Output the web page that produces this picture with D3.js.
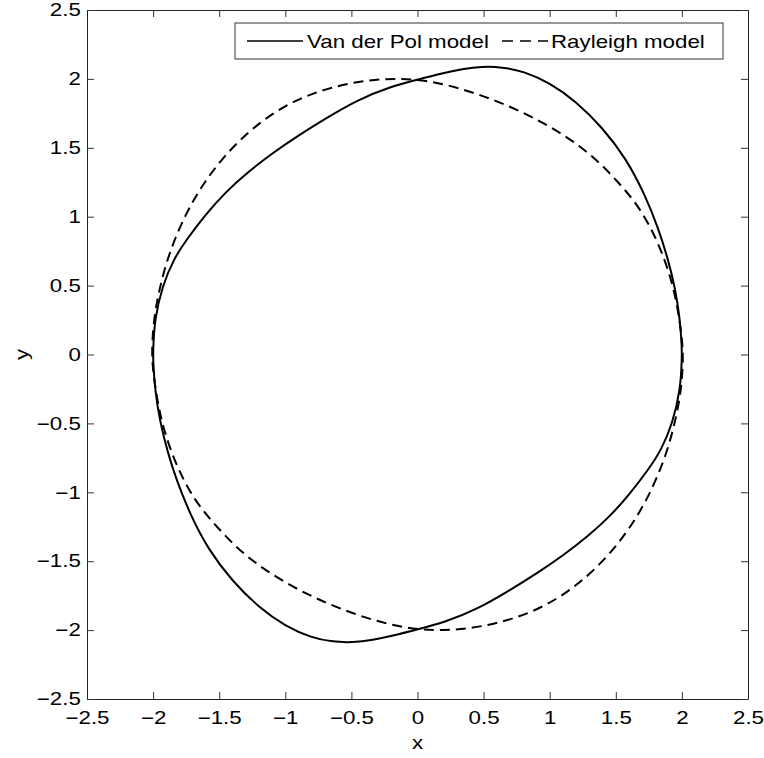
<!DOCTYPE html>
<html>
<head>
<meta charset="utf-8">
<script src="https://cdn.jsdelivr.net/npm/d3@7"></script>
<style>
  html, body { margin: 0; padding: 0; background: #fff; }
  svg { display: block; font-family: "Liberation Sans", Arial, Helvetica, sans-serif; }
</style>
</head>
<body>
<svg id="chart" width="764" height="758"></svg>
<script>
// Limit cycle of the Van der Pol oscillator (x, y = dx/dt), clockwise from the left extreme
const vanDerPolX = [-2.00, -1.99, -1.93, -1.84, -1.75, -1.60, -1.45, -1.30, -1.10, -0.90, -0.70, -0.45, -0.20, 0.00, 0.18, 0.34, 0.49, 0.64, 0.80, 1.00, 1.20, 1.40, 1.58, 1.72, 1.82, 1.89, 1.95, 1.985, 2.00,
                    2.00, 1.99, 1.93, 1.84, 1.75, 1.60, 1.45, 1.30, 1.10, 0.90, 0.70, 0.45, 0.20, 0.00, -0.18, -0.34, -0.49, -0.64, -0.80, -1.00, -1.20, -1.40, -1.58, -1.72, -1.82, -1.89, -1.95, -1.985, -2.00];
const vanDerPolY = [0.02, 0.25, 0.50, 0.70, 0.83, 1.02, 1.18, 1.31, 1.46, 1.59, 1.71, 1.85, 1.945, 1.995, 2.04, 2.072, 2.09, 2.086, 2.056, 1.972, 1.836, 1.646, 1.42, 1.16, 0.92, 0.71, 0.48, 0.26, 0.05,
                    -0.02, -0.25, -0.50, -0.70, -0.83, -1.02, -1.18, -1.31, -1.46, -1.59, -1.71, -1.85, -1.945, -1.995, -2.04, -2.072, -2.09, -2.086, -2.056, -1.972, -1.836, -1.646, -1.42, -1.16, -0.92, -0.71, -0.48, -0.26, -0.05];

// Limit cycle of the Rayleigh oscillator, same orientation
const rayleighX = [-2.01, -2.00, -1.96, -1.88, -1.75, -1.62, -1.48, -1.30, -1.10, -0.88, -0.65, -0.40, -0.15, 0.10, 0.35, 0.60, 0.85, 1.10, 1.33, 1.52, 1.68, 1.82, 1.92, 1.97, 2.00,
                   2.01, 2.00, 1.96, 1.88, 1.75, 1.62, 1.48, 1.30, 1.10, 0.88, 0.65, 0.40, 0.15, -0.10, -0.35, -0.60, -0.85, -1.10, -1.33, -1.52, -1.68, -1.82, -1.92, -1.97, -2.00];
const rayleighY = [0.00, 0.22, 0.45, 0.74, 1.03, 1.24, 1.42, 1.60, 1.75, 1.865, 1.94, 1.99, 2.005, 1.985, 1.925, 1.84, 1.735, 1.60, 1.44, 1.25, 1.07, 0.82, 0.55, 0.33, 0.12,
                   0.00, -0.22, -0.45, -0.74, -1.03, -1.24, -1.42, -1.60, -1.75, -1.865, -1.94, -1.99, -2.005, -1.985, -1.925, -1.84, -1.735, -1.60, -1.44, -1.25, -1.07, -0.82, -0.55, -0.33, -0.12];

const tickValues = [-2.5, -2, -1.5, -1, -0.5, 0, 0.5, 1, 1.5, 2, 2.5];
const tickLabels = ["\u22122.5", "\u22122", "\u22121.5", "\u22121", "\u22120.5", "0", "0.5", "1", "1.5", "2", "2.5"];

const seriesNames = ["Van der Pol model", "Rayleigh model"];
const xLabel = "x";
const yLabel = "y";

const svg = d3.select("#chart");
const plotLeft = 87, plotRight = 748, plotTop = 10, plotBottom = 699;
const fontSize = 18, stretch = 1.24;
const ink = "#000";

const x = d3.scaleLinear().domain([-2.5, 2.5]).range([plotLeft, plotRight]);
const y = d3.scaleLinear().domain([-2.5, 2.5]).range([plotBottom, plotTop]);

const fmt = d => tickLabels[tickValues.indexOf(d)];

// Curves: smooth closed splines through the sampled orbit points
const vdp = vanDerPolX.map((v, i) => [v, vanDerPolY[i]]);
const ray = rayleighX.map((v, i) => [v, rayleighY[i]]);
const line = d3.line().x(d => x(d[0])).y(d => y(d[1])).curve(d3.curveBasisClosed);

const plot = svg.append("g");
plot.append("path").attr("d", line(vdp))
  .attr("fill", "none").attr("stroke", ink).attr("stroke-width", 2);
plot.append("path").attr("d", line(ray))
  .attr("fill", "none").attr("stroke", ink).attr("stroke-width", 2)
  .attr("stroke-dasharray", "10,6");

// Axes (ticks pointing inward on all four sides)
function styleAxis(g) {
  g.selectAll("path.domain").attr("stroke", "#222").attr("stroke-width", 1);
  g.selectAll(".tick line").attr("stroke", "#333").attr("stroke-width", 1);
  g.selectAll("text").attr("font-size", fontSize).attr("fill", ink)
    .attr("font-family", "'Liberation Sans', Arial, sans-serif");
}

const gx = svg.append("g").attr("transform", `translate(0,${plotBottom})`)
  .call(d3.axisBottom(x).tickValues(tickValues).tickFormat(fmt).tickSizeInner(-7).tickSizeOuter(0).tickPadding(12))
  .call(styleAxis);
gx.selectAll(".tick text").attr("transform", `scale(${stretch},1)`);

svg.append("g").attr("transform", `translate(0,${plotTop})`)
  .call(d3.axisTop(x).tickValues(tickValues).tickFormat("").tickSizeInner(-7).tickSizeOuter(0))
  .call(styleAxis);

const gy = svg.append("g").attr("transform", `translate(${plotLeft},0)`)
  .call(d3.axisLeft(y).tickValues(tickValues).tickFormat(fmt).tickSizeInner(-7).tickSizeOuter(0).tickPadding(5))
  .call(styleAxis);
gy.selectAll(".tick text").attr("transform", `scale(${stretch},1)`);

svg.append("g").attr("transform", `translate(${plotRight},0)`)
  .call(d3.axisRight(y).tickValues(tickValues).tickFormat("").tickSizeInner(-7).tickSizeOuter(0))
  .call(styleAxis);

// Axis labels
svg.append("text").attr("transform", `translate(${(plotLeft + plotRight) / 2},749) scale(${stretch},1)`)
  .attr("text-anchor", "middle").attr("font-size", fontSize).text(xLabel);
svg.append("text").attr("transform", `translate(28,${(plotTop + plotBottom) / 2}) rotate(-90) scale(${stretch},1)`)
  .attr("text-anchor", "middle").attr("font-size", fontSize).text(yLabel);

// Legend
const leg = svg.append("g");
leg.append("rect").attr("x", 235).attr("y", 23).attr("width", 488).attr("height", 36)
  .attr("fill", "#fff").attr("stroke", "#333").attr("stroke-width", 1);
const legY = 41;
leg.append("line").attr("x1", 247).attr("x2", 303).attr("y1", legY).attr("y2", legY)
  .attr("stroke", ink).attr("stroke-width", 1.5);
leg.append("text").attr("transform", `translate(307,${legY + 6.5}) scale(${stretch},1)`)
  .attr("font-size", fontSize).text(seriesNames[0]);
leg.append("line").attr("x1", 502).attr("x2", 548).attr("y1", legY).attr("y2", legY)
  .attr("stroke", ink).attr("stroke-width", 1.5).attr("stroke-dasharray", "11,7");
leg.append("text").attr("transform", `translate(551,${legY + 6.5}) scale(${stretch},1)`)
  .attr("font-size", fontSize).text(seriesNames[1]);
</script>
</body>
</html>
